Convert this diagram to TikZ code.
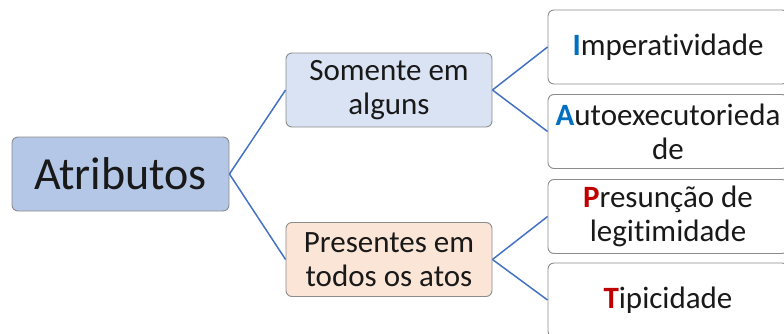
\documentclass[tikz,border=0pt]{standalone}
\usepackage{fontspec}
\setmainfont[Ligatures=NoCommon]{Carlito}
\definecolor{rootfill}{HTML}{B4C7E7}
\definecolor{somefill}{HTML}{DAE3F3}
\definecolor{allfill}{HTML}{FBE5D6}
\definecolor{linkblue}{HTML}{4472C4}
\definecolor{initblue}{HTML}{0070C0}
\definecolor{initred}{HTML}{C00000}
\newcommand{\initial}[2]{\textcolor{#1}{\textbf{#2}}}
\begin{document}
\begin{tikzpicture}[
    x=1pt, y=1pt,
    box/.style={draw=black!45, line width=0.9pt, rounded corners=6pt, align=center,
        inner sep=0pt, text=black!90, font=\fontsize{31}{34}\selectfont},
    rootbox/.style={box, fill=rootfill, minimum width=217pt, minimum height=74pt,
        font=\fontsize{46}{50}\selectfont},
    midbox/.style={box, minimum width=206pt, minimum height=74pt},
    leafbox/.style={box, fill=white, minimum width=240pt, minimum height=74pt},
    link/.style={draw=linkblue, line width=1.5pt}
]
\useasboundingbox (0,0) rectangle (784,333);
\clip (0,0) rectangle (784,333);

% root and the two groups
\node[rootbox] (attr) at (120.5,159) {Atributos};
\node[midbox, fill=somefill] (some) at (389,243) {Somente em\\alguns};
\node[midbox, fill=allfill] (all) at (389,73.5) {Presentes em\\todos os atos};

% leaves (cut off at the right edge)
\node[leafbox] (imp) at (668,286) {\initial{initblue}{I}mperatividade};
\node[leafbox] (auto) at (668,201.5) {\initial{initblue}{A}utoexecutorieda\\de};
\node[leafbox] (pres) at (668,116.5) {\initial{initred}{P}resunção de\\legitimidade};
\node[leafbox] (tip) at (668,33) {\initial{initred}{T}ipicidade};

% connectors
\draw[link] (attr.east) -- (some.west);
\draw[link] (attr.east) -- (all.west);
\draw[link] (some.east) -- (imp.west);
\draw[link] (some.east) -- (auto.west);
\draw[link] (all.east) -- (pres.west);
\draw[link] (all.east) -- (tip.west);
\end{tikzpicture}
\end{document}
